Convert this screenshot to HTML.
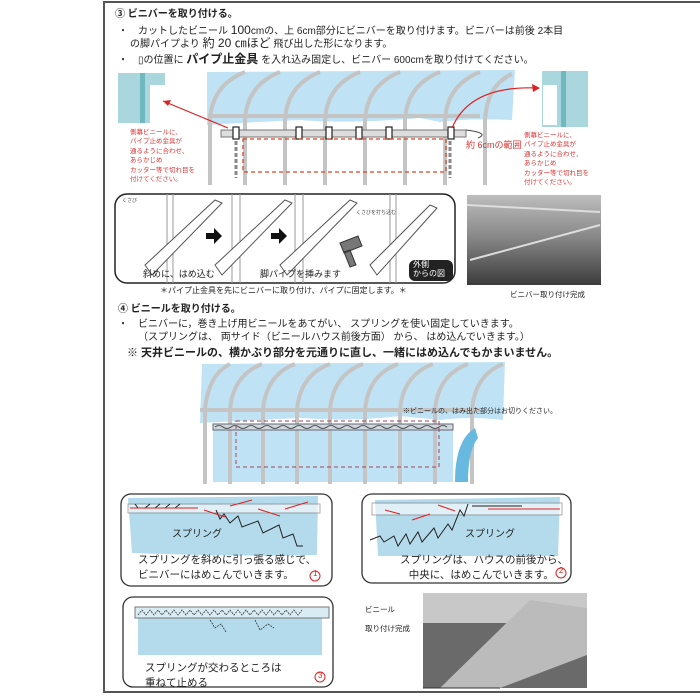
<!DOCTYPE html>
<html><head><meta charset="utf-8"><style>
*{margin:0;padding:0}
body{width:700px;height:700px;background:#fff;position:relative;overflow:hidden;font-family:"Liberation Sans","Noto Sans CJK JP",sans-serif;color:#222}
.t{position:absolute;white-space:nowrap;line-height:1}
svg{position:absolute;left:0;top:0}
</style></head><body>
<svg width="700" height="700" viewBox="0 0 700 700">
<defs>
<linearGradient id="ph" x1="0" y1="0" x2="0" y2="1"><stop offset="0" stop-color="#bdbdbd"/><stop offset=".45" stop-color="#8a8a8a"/><stop offset="1" stop-color="#3c3c3c"/></linearGradient>
<linearGradient id="ph2" x1="0" y1="0" x2="1" y2="1"><stop offset="0" stop-color="#d0d0d0"/><stop offset=".5" stop-color="#9a9a9a"/><stop offset="1" stop-color="#444"/></linearGradient>
</defs>
<line x1="103" y1="2" x2="700" y2="2" stroke="#555" stroke-width="2"/>
<line x1="104" y1="2" x2="104" y2="692" stroke="#555" stroke-width="2"/>
<line x1="103" y1="692" x2="700" y2="692" stroke="#555" stroke-width="2"/>

<path d="M207,72 L515,70 L512,120 Q470,118 440,122 L420,118 Q350,124 300,120 L240,123 L207,125 Z" fill="#bfe3f4"/>
<g fill="none" stroke="#c4c4c4" stroke-width="4">
<path d="M210,185 L210,120 Q212,85 245,72"/><path d="M245,185 L245,120 Q247,85 280,72"/><path d="M285,185 L285,120 Q287,85 320,72"/><path d="M325,185 L325,120 Q327,85 360,72"/><path d="M365,185 L365,120 Q367,85 400,72"/><path d="M405,185 L405,120 Q407,85 440,72"/><path d="M445,185 L445,120 Q447,85 480,72"/><path d="M485,185 L485,120 Q487,85 512,74"/>
<line x1="208" y1="116" x2="480" y2="116"/>
</g>
<rect x="221" y="130" width="245" height="7" fill="#ddd" stroke="#777" stroke-width="1"/>
<path d="M466,130 Q490,133 478,138" stroke="#444" fill="none"/>
<g fill="#fff" stroke="#222" stroke-width="1.2">
<rect x="233" y="127" width="6" height="12"/><rect x="296" y="127" width="6" height="12"/><rect x="326" y="127" width="6" height="12"/><rect x="356" y="127" width="6" height="12"/><rect x="386" y="127" width="6" height="12"/><rect x="448" y="127" width="6" height="12"/>
</g>
<rect x="243" y="139" width="203" height="33" fill="none" stroke="#d42" stroke-width="1.3" stroke-dasharray="4,3"/>
<line x1="236" y1="141" x2="236" y2="178" stroke="#888" stroke-width="3" stroke-dasharray="4,2"/>
<line x1="450" y1="141" x2="450" y2="178" stroke="#888" stroke-width="3" stroke-dasharray="4,2"/>
<rect x="118" y="73" width="47" height="50" fill="#a9d7dd"/><rect x="140" y="73" width="5" height="50" fill="#6fb8bf"/><rect x="150" y="85" width="15" height="38" fill="#fff"/>
<rect x="542" y="71" width="46" height="56" fill="#a9d7dd"/><rect x="561" y="71" width="5" height="56" fill="#6fb8bf"/><rect x="543" y="85" width="14" height="40" fill="#fff"/>
<path d="M228,128 L163,101" stroke="#d22" stroke-width="1.2"/><path d="M163,101 L171,100 L168,106Z" fill="#d22"/>
<path d="M452,128 Q470,85 538,88" stroke="#d22" stroke-width="1.2" fill="none"/><path d="M540,88 L532,84 L533,92Z" fill="#d22"/>

<rect x="115" y="194" width="340" height="89" rx="12" fill="#fff" stroke="#222" stroke-width="1.5"/>
<g stroke="#999" fill="none"><line x1="167" y1="194" x2="167" y2="283"/><line x1="173" y1="194" x2="173" y2="283"/><line x1="232" y1="194" x2="232" y2="283"/><line x1="240" y1="194" x2="240" y2="283"/><line x1="295" y1="194" x2="295" y2="283"/><line x1="303" y1="194" x2="303" y2="283"/><line x1="390" y1="194" x2="390" y2="283"/><line x1="396" y1="194" x2="396" y2="283"/></g>
<g fill="#fff" stroke="#555"><path d="M145,265 L215,200 L222,203 L152,275Z"/><path d="M215,265 L285,200 L292,203 L222,275Z"/><path d="M280,265 L350,200 L357,203 L287,275Z"/><path d="M370,265 L430,205 L437,208 L377,275Z"/></g>
<path d="M206,233 l8,0 0,-5 8,8 -8,8 0,-5 -8,0Z M271,233 l8,0 0,-5 8,8 -8,8 0,-5 -8,0Z" fill="#111"/>
<path d="M340,243 L358,236 L362,246 L344,253Z M350,250 L356,265 L350,267 L344,252Z" fill="#777" stroke="#333"/>
<rect x="409" y="260" width="44" height="21" rx="6" fill="#222"/>
<rect x="467" y="195" width="134" height="90" fill="url(#ph)"/>
<path d="M467,205 L600,212 M470,260 L600,225" stroke="#ddd" stroke-width="2"/>

<path d="M202,364 L505,362 L503,420 Q470,416 440,420 L400,416 Q350,422 300,418 L240,421 L200,423Z" fill="#bfe3f4"/>
<rect x="213" y="426" width="240" height="56" fill="#bfe3f4"/>
<g fill="none" stroke="#c4c4c4" stroke-width="4">
<path d="M205,484 L205,410 Q208,375 230,364"/><path d="M230,484 L230,410 Q233,375 262,364"/><path d="M263,484 L263,410 Q266,375 295,364"/><path d="M297,484 L297,410 Q300,375 330,364"/><path d="M330,484 L330,410 Q333,375 363,364"/><path d="M365,484 L365,410 Q368,375 398,364"/><path d="M400,484 L400,410 Q403,375 433,364"/><path d="M435,484 L435,410 Q438,375 468,364"/><path d="M472,484 L472,410 Q475,375 503,364"/>
<line x1="200" y1="410" x2="480" y2="410"/>
</g>
<path d="M455,482 Q455,440 475,428 L478,438 Q468,450 468,482Z" fill="#67b9e0"/>
<rect x="213" y="424" width="240" height="6" fill="#cfd8dc" stroke="#667" stroke-width="1"/>
<path d="M215,427 q4,-3 8,0 t8,0 t8,0 t8,0 t8,0 t8,0 t8,0 t8,0 t8,0 t8,0 t8,0 t8,0 t8,0 t8,0 t8,0 t8,0 t8,0 t8,0 t8,0 t8,0 t8,0 t8,0 t8,0 t8,0 t8,0 t8,0 t8,0 t8,0 t8,0" stroke="#333" fill="none" stroke-width=".8"/>
<rect x="236" y="421" width="203" height="46" fill="none" stroke="#a04060" stroke-dasharray="4,3"/>

<rect x="121" y="494" width="211" height="92" rx="10" fill="#fff" stroke="#333" stroke-width="1.3"/>
<path d="M128,498 L318,496 L317,555 Q250,557 132,553Z" fill="#b4dbeb"/>
<rect x="128" y="504" width="192" height="9" fill="#fff" opacity=".6" stroke="#777"/>
<path d="M130,508 l8,0 l-3,-4 m10,4 l5,-4 m5,4 l5,-4 m5,4 l5,-4 m5,4 l5,-4 M216,510 l4,9 l4,-5 l6,9 l8,-7 l4,11 l16,-6 l5,12 l16,-8 l4,13 l10,-4 l4,12 l6,0" stroke="#222" fill="none"/>
<g stroke="#d22" stroke-width="1.1"><line x1="130" y1="508" x2="198" y2="508"/><line x1="204" y1="510" x2="225" y2="517"/><line x1="230" y1="506" x2="252" y2="500"/><line x1="258" y1="509" x2="280" y2="516"/><line x1="285" y1="509" x2="308" y2="502"/></g>
<circle cx="315" cy="576" r="5" fill="none" stroke="#d22"/>
<rect x="362" y="494" width="209" height="89" rx="10" fill="#fff" stroke="#333" stroke-width="1.3"/>
<path d="M375,500 L560,497 L558,556 L378,556Z" fill="#b4dbeb"/>
<rect x="372" y="503" width="190" height="12" fill="#fff" opacity=".6" stroke="#777"/>
<path d="M370,540 l10,-4 l4,6 l10,-6 l4,10 l8,-12 l4,10 l8,-12 l4,10 l12,-14 l4,10 l10,-14 l4,6 l8,-20 l4,6 l4,-12 m4,2 l50,0" stroke="#222" fill="none"/>
<g stroke="#d22" stroke-width="1.1"><line x1="400" y1="514" x2="385" y2="510"/><line x1="430" y1="514" x2="412" y2="520"/><line x1="455" y1="511" x2="438" y2="505"/><line x1="560" y1="509" x2="488" y2="509"/></g>
<circle cx="561" cy="573" r="5" fill="none" stroke="#d22"/>
<rect x="123" y="597" width="210" height="90" rx="10" fill="#fff" stroke="#333" stroke-width="1.3"/>
<rect x="138" y="607" width="184" height="48" fill="#b4dbeb"/>
<rect x="135" y="607" width="194" height="11" fill="#d9ecf4" stroke="#777"/>
<path d="M138,615 l4,-5 l4,5 l4,-5 l4,5 l4,-5 l4,5 l4,-5 l4,5 l4,-5 l4,5 l4,-5 l4,5 l4,-5 l4,5 l4,-5 l4,5 l4,-5 l4,5 l4,-5 l4,5 l4,-5 l4,5 l4,-5 l4,5 l4,-5 l4,5 l4,-5 l4,5 l4,-5 l4,5 l4,-5 l4,5 l4,-5 l4,5 l4,-5 l4,5 l4,-5 l4,5 l4,-5 l4,5 l4,-5 M210,620 l5,8 l6,-4 l5,8 M255,620 l5,10 l8,-6 l6,4" stroke="#333" fill="none" stroke-width=".8" stroke-dasharray="2,1"/>
<circle cx="320" cy="677" r="5" fill="none" stroke="#d22"/>
<rect x="423" y="593" width="164" height="95" fill="#6a6a6a"/>
<rect x="423" y="593" width="164" height="30" fill="#c8c8c8"/>
<path d="M440,688 L530,600 L587,608 L587,655 L500,688Z" fill="#bbb"/>
<path d="M423,688 L440,688 L500,688" stroke="#333"/>
</svg>

<div class="t" style="left:115px;top:10px;font-size:10px;font-weight:bold">③ ビニバーを取り付ける。</div>
<div class="t" style="left:118px;top:24px;font-size:10px">・　カットしたビニール <span style="font-size:12px">100</span>cmの、上 6cm部分にビニバーを取り付けます。ビニバーは前後 2本目</div>
<div class="t" style="left:130px;top:37px;font-size:10px">の脚パイプより <span style="font-size:12px">約 20 ㎝ほど</span> 飛び出した形になります。</div>
<div class="t" style="left:118px;top:53px;font-size:10px">・　▯の位置に <b style="font-size:12px">パイプ止金具</b> を入れ込み固定し、ビニバー 600cmを取り付けてください。</div>
<div class="t" style="left:130px;top:128px;font-size:6.5px;color:#d33;line-height:1.45">側幕ビニールに、<br>パイプ止め金具が<br>通るように合わせ、<br>あらかじめ<br>カッター等で切れ目を<br>付けてください。</div>
<div class="t" style="left:524px;top:131px;font-size:6.5px;color:#d33;line-height:1.45">側幕ビニールに、<br>パイプ止め金具が<br>通るように合わせ、<br>あらかじめ<br>カッター等で切れ目を<br>付けてください。</div>
<div class="t" style="left:466px;top:141px;font-size:9px;color:#d33">約 6cmの範囲</div>
<div class="t" style="left:356px;top:211px;font-size:5px;color:#444">くさびを打ち込む</div>
<div class="t" style="left:122px;top:199px;font-size:5px;color:#444">くさび</div>
<div class="t" style="left:143px;top:270px;font-size:9px">斜めに、はめ込む</div>
<div class="t" style="left:260px;top:270px;font-size:9px">脚パイプを挿みます</div>
<div class="t" style="left:413px;top:261px;font-size:8px;color:#fff;line-height:1.1">外側<br>からの図</div>
<div class="t" style="left:160px;top:287px;font-size:8px">＊パイプ止金具を先にビニバーに取り付け、パイプに固定します。＊</div>
<div class="t" style="left:510px;top:291px;font-size:7.5px">ビニバー取り付け完成</div>
<div class="t" style="left:118px;top:305px;font-size:10px;font-weight:bold">④ ビニールを取り付ける。</div>
<div class="t" style="left:118px;top:320px;font-size:10px">・　ビニバーに，巻き上げ用ビニールをあてがい、 スプリングを使い固定していきます。</div>
<div class="t" style="left:138px;top:333px;font-size:10px">（スプリングは、 両サイド（ビニールハウス前後方面） から、 はめ込んでいきます。）</div>
<div class="t" style="left:127px;top:348px;font-size:11px;font-weight:bold">※ 天井ビニールの、横かぶり部分を元通りに直し、一緒にはめ込んでもかまいません。</div>
<div class="t" style="left:403px;top:408px;font-size:7px">※ビニールの、はみ出た部分はお切りください。</div>
<div class="t" style="left:172px;top:530px;font-size:10px">スプリング</div>
<div class="t" style="left:138px;top:553px;font-size:10.5px;line-height:1.4">スプリングを斜めに引っ張る感じで、<br>ビニバーにはめこんでいきます。</div>
<div class="t" style="left:313px;top:570px;font-size:8px;color:#d22">1</div>
<div class="t" style="left:465px;top:530px;font-size:10px">スプリング</div>
<div class="t" style="left:400px;top:553px;font-size:10.5px;line-height:1.4">スプリングは、ハウスの前後から、<br>&nbsp;&nbsp;&nbsp;中央に、はめこんでいきます。</div>
<div class="t" style="left:559px;top:567px;font-size:8px;color:#d22">2</div>
<div class="t" style="left:145px;top:661px;font-size:10.5px;line-height:1.4">スプリングが交わるところは<br>重ねて止める</div>
<div class="t" style="left:318px;top:672px;font-size:8px;color:#d22">3</div>
<div class="t" style="left:365px;top:606px;font-size:7.5px">ビニール</div>
<div class="t" style="left:365px;top:625px;font-size:7.5px">取り付け完成</div>
</body></html>
